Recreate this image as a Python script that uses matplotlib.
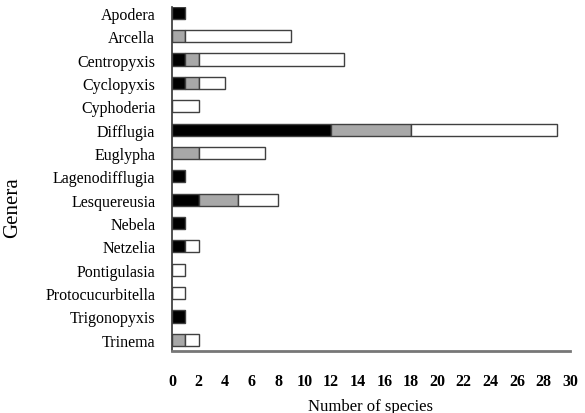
import matplotlib
matplotlib.use("Agg")
import matplotlib.pyplot as plt
import numpy as np

genera = ["Apodera", "Arcella", "Centropyxis", "Cyclopyxis", "Cyphoderia",
          "Difflugia", "Euglypha", "Lagenodifflugia", "Lesquereusia", "Nebela",
          "Netzelia", "Pontigulasia", "Protocucurbitella", "Trigonopyxis", "Trinema"]
black_vals = [1, 0, 1, 1, 0, 12, 0, 1, 2, 1, 1, 0, 0, 1, 0]
gray_vals = [0, 1, 1, 1, 0, 6, 2, 0, 3, 0, 0, 0, 0, 0, 1]
white_vals = [0, 8, 11, 2, 2, 11, 5, 0, 3, 0, 1, 1, 1, 0, 1]
x_ticks = list(range(0, 31, 2))

plt.rcParams["font.family"] = ["Liberation Serif", "DejaVu Serif"]

fig = plt.figure(figsize=(5.85, 4.14), dpi=100)
ax = fig.add_axes([172 / 585, 1 - 352 / 414, (570 - 172) / 585, (352 - 8) / 414])

n = len(genera)
y = np.arange(n)[::-1]
black = np.array(black_vals)
gray = np.array(gray_vals)
white = np.array(white_vals)
h = 0.52
edge = "#404040"

def draw(vals, left, color):
    mask = vals > 0
    ax.barh(y[mask], vals[mask], left=left[mask], height=h, color=color,
            edgecolor=edge, linewidth=1.0, zorder=3)

draw(black, np.zeros(n), "black")
draw(gray, black, "#a8a8a8")
draw(white, black + gray, "white")

ax.set_xlim(0, 30)
ax.set_ylim(-0.48, 14.25)
ax.set_xticks(x_ticks)
ax.set_xticklabels([str(t) for t in x_ticks], fontsize=11.5, fontweight="bold")
ax.set_yticks(y)
ax.set_yticklabels(genera, fontsize=11.5)
ax.tick_params(axis="x", length=0, pad=16)
ax.tick_params(axis="y", length=0, pad=12)

for s in ["top", "right"]:
    ax.spines[s].set_visible(False)
ax.spines["left"].set_color("#333333")
ax.spines["left"].set_linewidth(1.2)
ax.spines["bottom"].set_color("#777777")
ax.spines["bottom"].set_linewidth(2.0)

ax.set_xlabel("Number of species", fontsize=12, labelpad=6)
fig.text(13 / 585, 1 - 208 / 414, "Genera", rotation=90, fontsize=15,
         ha="center", va="center")

fig.savefig("out.png", dpi=100)
